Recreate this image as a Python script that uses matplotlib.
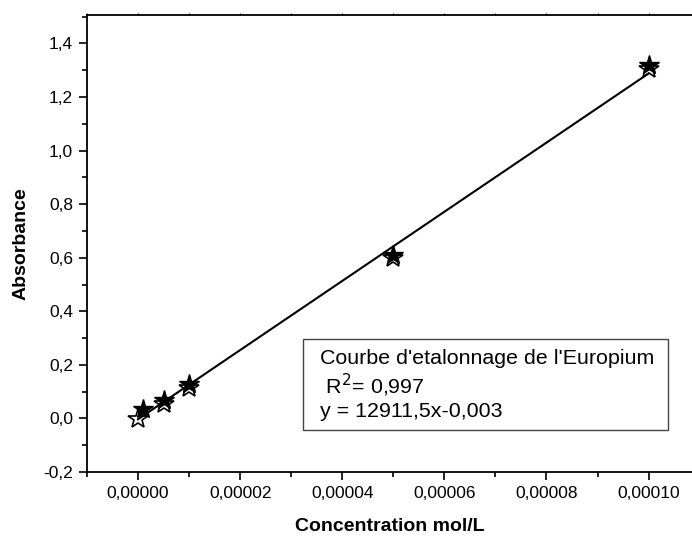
import matplotlib
matplotlib.use("Agg")
import matplotlib.pyplot as plt
from matplotlib.ticker import MultipleLocator, FuncFormatter
from matplotlib.patches import Rectangle

plt.rcParams['font.family'] = ['Liberation Sans', 'DejaVu Sans']

# data
conc_filled = [1e-6, 5e-6, 1e-5, 5e-5, 1e-4]
abs_filled = [0.036, 0.067, 0.128, 0.612, 1.318]
conc_open = [0.0, 5e-6, 1e-5, 5e-5, 1e-4]
abs_open = [-0.003, 0.053, 0.113, 0.598, 1.303]
fit_x = [0.0, 1e-4]
fit_y = [-0.003, 1.288]

box_lines = ["Courbe d'etalonnage de l'Europium",
             r" R$^{2}$= 0,997",
             "y = 12911,5x-0,003"]

fig = plt.figure(figsize=(6.92, 5.36), dpi=100)
ax = fig.add_axes([0.1257, 0.1194, 0.8743, 0.852])

ax.plot(conc_open, abs_open, linestyle='none', marker='*', ms=15,
        mfc='white', mec='black', mew=1.2, zorder=2)
ax.plot(conc_filled, abs_filled, linestyle='none', marker='*', ms=15,
        mfc='black', mec='black', mew=1.0, zorder=3)
ax.plot(fit_x, fit_y, color='black', lw=1.5, zorder=4)

ax.set_xlim(-1e-5, 1.085e-4)
ax.set_ylim(-0.2, 1.505)

ax.xaxis.set_major_locator(MultipleLocator(2e-5))
ax.xaxis.set_minor_locator(MultipleLocator(1e-5))
ax.yaxis.set_major_locator(MultipleLocator(0.2))
ax.yaxis.set_minor_locator(MultipleLocator(0.1))
ax.xaxis.set_major_formatter(FuncFormatter(lambda v, p: f"{v:.5f}".replace('.', ',')))
ax.yaxis.set_major_formatter(FuncFormatter(lambda v, p: f"{v:.1f}".replace('.', ',').replace('-0,0', '0,0')))

ax.tick_params(which='major', direction='out', length=6, width=1.2, labelsize=12.5, pad=4)
ax.tick_params(which='minor', direction='out', length=3.5, width=1.2)
ax.tick_params(axis='x', which='both', top=True, labeltop=False)

for s in ['left', 'bottom', 'top']:
    ax.spines[s].set_linewidth(1.3)
ax.spines['right'].set_visible(False)

# barely visible ticks on the top spine
for t in ax.xaxis.get_major_ticks() + ax.xaxis.get_minor_ticks():
    t.tick2line.set_markersize(1.2)
    t.tick2line.set_markeredgewidth(0.6)

ax.set_xlabel("Concentration mol/L", fontsize=14, fontweight='bold', labelpad=12)
ax.set_ylabel("Absorbance", fontsize=14, fontweight='bold', labelpad=10)

ax.add_patch(Rectangle((0.357, 0.092), 0.603, 0.199, transform=ax.transAxes,
                       fill=False, edgecolor='#444444', lw=1.0, zorder=5))
for i, line in enumerate(box_lines):
    ax.text(0.385, 0.248 - i * 0.058, line, transform=ax.transAxes,
            fontsize=15.4, va='center', ha='left', zorder=6)

fig.savefig("out.png", dpi=100)
